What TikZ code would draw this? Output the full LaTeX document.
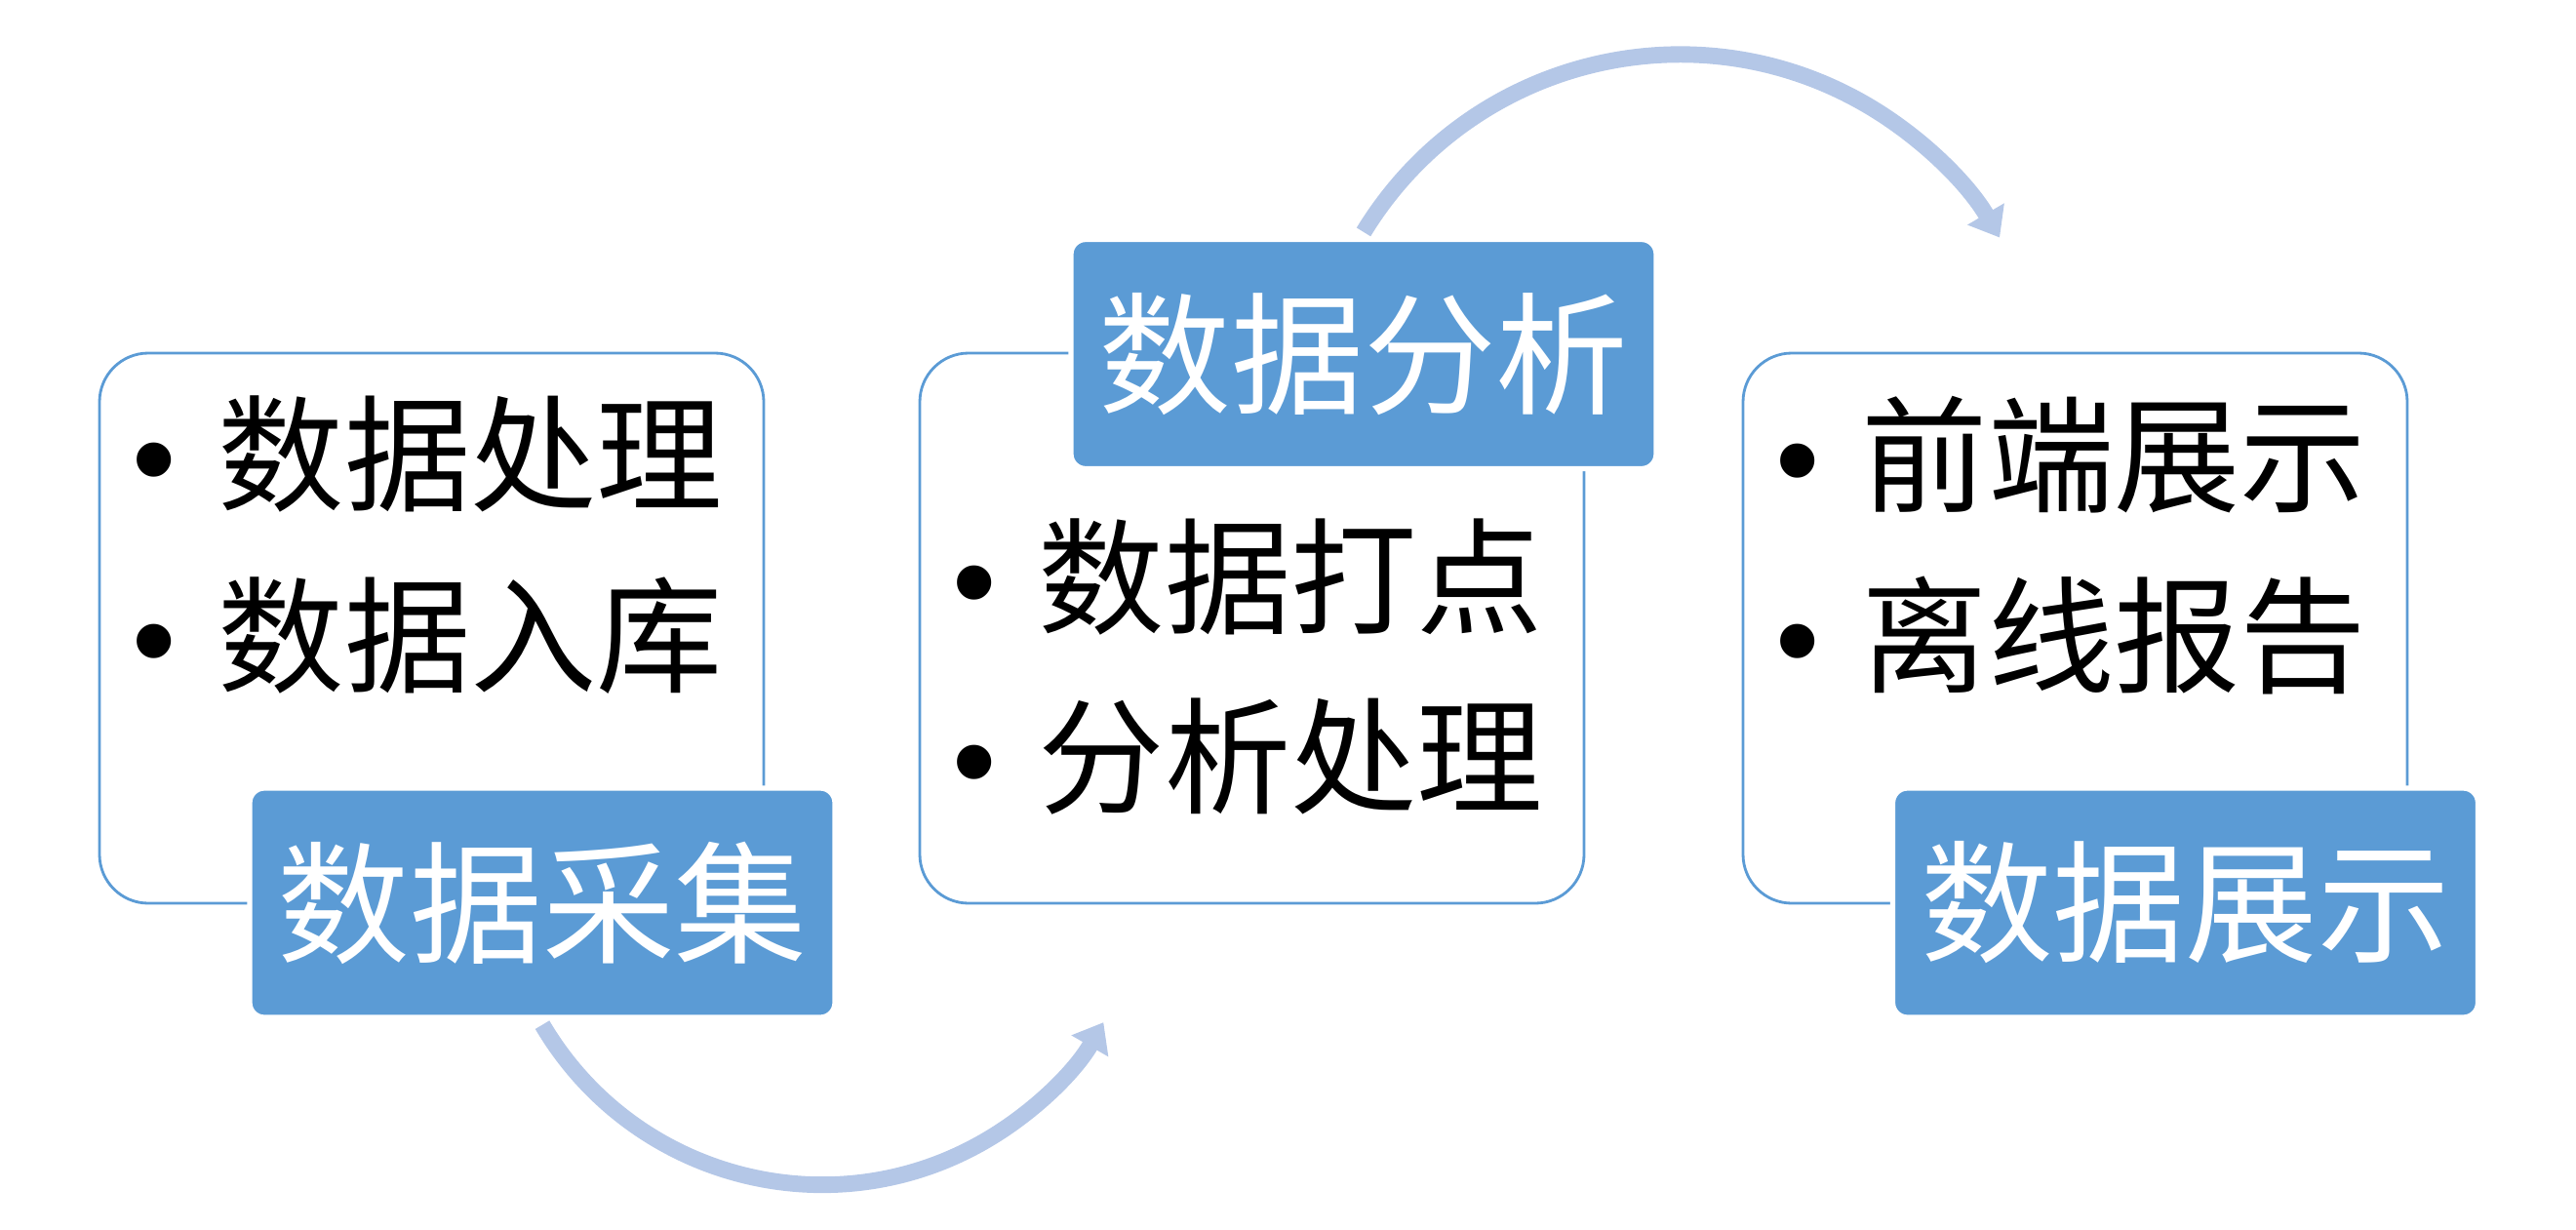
\documentclass[tikz,border=0pt]{standalone}
\usepackage{fontspec}
\setmainfont{Noto Sans CJK SC}
\newfontfamily\bulletfont{Liberation Sans}
\usetikzlibrary{arrows.meta,positioning}
\definecolor{stageBlue}{RGB}{91,155,213}
\definecolor{flowBlue}{RGB}{180,199,231}

\newcommand{\itemdot}{\makebox[0.88cm][l]{\bulletfont •}}

\begin{document}
\begin{tikzpicture}[
    x=1cm,y=1cm,
    line join=round,
    panel/.style={
        rectangle,
        rounded corners=0.5cm,
        draw=stageBlue,
        line width=0.8pt,
        fill=white,
        minimum width=6.81cm,
        minimum height=5.64cm,
        inner sep=0pt
    },
    stage/.style={
        rectangle,
        rounded corners=0.15cm,
        fill=stageBlue,
        draw=white,
        line width=1.5pt,
        text=white,
        font=\fontsize{38.6}{40}\selectfont,
        minimum width=6.0cm,
        minimum height=2.35cm,
        inner sep=0pt
    },
    item/.style={
        anchor=west,
        inner sep=0pt,
        font=\fontsize{36.8}{40}\selectfont
    },
    flow/.style={
        draw=flowBlue,
        line width=4.8pt,
        -{Triangle[length=0.28cm,width=0.42cm]}
    }
]

\useasboundingbox (0,0) rectangle (26.41,12.6);

% ============================================================
% stage 1: collect
% ============================================================

\begin{scope}[shift={(0,0)}]
    \node[panel] (box1) at (4.425,6.16) {};
    \node[item] (item1a) at (1.35,7.95) {\itemdot 数据处理};
    \node[item] (item1b) at (1.35,6.08) {\itemdot 数据入库};
    \node[stage] (lab1) at (5.56,3.345) {数据采集};
\end{scope}

% ============================================================
% stage 2: analyse
% ============================================================

\begin{scope}[shift={(8.41,0)}]
    \node[panel] (box2) at (4.425,6.16) {};
    \node[item] (item2a) at (1.35,6.69) {\itemdot 数据打点};
    \node[item] (item2b) at (1.35,4.84) {\itemdot 分析处理};
    \node[stage] (lab2) at (5.57,8.97) {数据分析};
\end{scope}

% ============================================================
% stage 3: show
% ============================================================

\begin{scope}[shift={(16.85,0)}]
    \node[panel] (box3) at (4.425,6.16) {};
    \node[item] (item3a) at (1.35,7.94) {\itemdot 前端展示};
    \node[item] (item3b) at (1.35,6.09) {\itemdot 离线报告};
    \node[stage] (lab3) at (5.555,3.345) {数据展示};
\end{scope}

% ============================================================
% flow arrows
% ============================================================

\draw[flow] ([yshift=-0.05cm]lab1.south)
    arc[start angle=210.5,end angle=330,radius=3.33];
\draw[flow] ([yshift=0.05cm]lab2.north)
    arc[start angle=148.6,end angle=30.4,radius=3.8];

\end{tikzpicture}
\end{document}
